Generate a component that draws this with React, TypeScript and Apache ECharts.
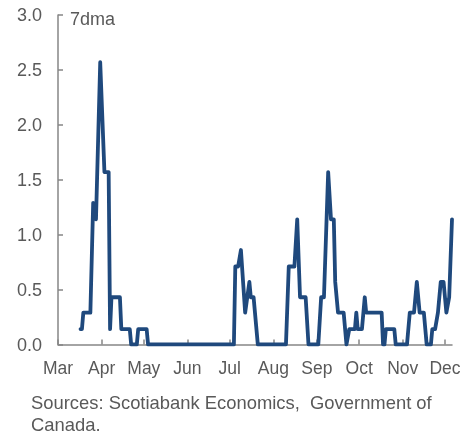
import React, { useEffect, useRef } from "react";
import * as echarts from "echarts";

const monthLabels = ["Mar", "Apr", "May", "Jun", "Jul", "Aug", "Sep", "Oct", "Nov", "Dec"];
const monthStarts = [
  "2020-03-01", "2020-04-01", "2020-05-01", "2020-06-01", "2020-07-01",
  "2020-08-01", "2020-09-01", "2020-10-01", "2020-11-01", "2020-12-01",
];
const axisStart = "2020-03-01";
const axisEnd = "2020-12-06";

const dates = [
  "2020-03-17", "2020-03-18", "2020-03-19", "2020-03-24", "2020-03-26", "2020-03-28", "2020-03-31",
  "2020-04-03", "2020-04-06", "2020-04-07", "2020-04-08", "2020-04-14", "2020-04-15", "2020-04-21",
  "2020-04-22", "2020-04-26", "2020-04-27", "2020-05-03", "2020-05-04",
  "2020-07-04", "2020-07-05", "2020-07-07", "2020-07-09", "2020-07-12", "2020-07-15", "2020-07-16",
  "2020-07-18", "2020-07-21",
  "2020-08-10", "2020-08-12", "2020-08-16", "2020-08-18", "2020-08-20", "2020-08-24", "2020-08-26",
  "2020-09-02", "2020-09-04", "2020-09-06", "2020-09-09", "2020-09-11", "2020-09-13", "2020-09-14",
  "2020-09-16", "2020-09-20", "2020-09-22", "2020-09-24", "2020-09-28", "2020-09-29", "2020-09-30",
  "2020-10-03", "2020-10-05", "2020-10-06", "2020-10-17", "2020-10-18", "2020-10-19", "2020-10-20",
  "2020-10-26", "2020-10-27",
  "2020-11-04", "2020-11-06", "2020-11-09", "2020-11-11", "2020-11-13", "2020-11-16", "2020-11-18",
  "2020-11-21", "2020-11-22", "2020-11-24", "2020-11-26", "2020-11-28", "2020-11-30",
  "2020-12-02", "2020-12-04", "2020-12-06",
];
const values = [
  0.14, 0.14, 0.29, 0.29, 1.29, 1.14, 2.57,
  1.57, 1.57, 0.14, 0.43, 0.43, 0.14, 0.14,
  0, 0, 0.14, 0.14, 0,
  0, 0.71, 0.71, 0.86, 0.29, 0.57, 0.43,
  0.43, 0,
  0, 0.71, 0.71, 1.14, 0.43, 0.43, 0,
  0, 0.43, 0.43, 1.57, 1.14, 1.14, 0.57,
  0.29, 0.29, 0, 0.14, 0.14, 0.29, 0.14,
  0.14, 0.43, 0.29, 0.29, 0, 0, 0.14,
  0.14, 0,
  0, 0.29, 0.29, 0.57, 0.29, 0.29, 0,
  0, 0.14, 0.14, 0.29, 0.57, 0.57,
  0.29, 0.43, 1.14,
];
const yTicks = [0, 0.5, 1.0, 1.5, 2.0, 2.5, 3.0];

const seriesLabel = "7dma";
const sourceText = "Sources: Scotiabank Economics,  Government of\nCanada.";

const dayOffset = (s: string) => {
  const [y, m, d] = s.split("-").map(Number);
  const [y0, m0, d0] = axisStart.split("-").map(Number);
  return Math.round((Date.UTC(y, m - 1, d) - Date.UTC(y0, m0 - 1, d0)) / 86400000);
};

export default function App() {
  const ref = useRef<HTMLDivElement>(null);
  useEffect(() => {
    if (!ref.current) return;
    const chart = echarts.init(ref.current, undefined, { renderer: "svg" });
    const monthOffsets = monthStarts.map(dayOffset);
    const textColor = "#595959";
    const axisColor = "#868686";
    const font = "Liberation Sans";
    chart.setOption({
      animation: false,
      grid: { left: 58, right: 13, top: 15, bottom: 90.5, containLabel: false },
      xAxis: {
        type: "value",
        min: 0,
        max: dayOffset(axisEnd),
        splitLine: { show: false },
        axisLine: { show: true, onZero: false, lineStyle: { color: axisColor, width: 1.5 } },
        axisTick: { show: true, inside: true, length: 5, customValues: monthOffsets, lineStyle: { color: axisColor, width: 1.5 } },
        axisLabel: {
          customValues: monthOffsets,
          formatter: (v: number) => {
            const i = monthOffsets.indexOf(Math.round(v));
            return i >= 0 ? monthLabels[i] : "";
          },
          color: textColor,
          fontSize: 17.5,
          fontFamily: font,
          margin: 14,
          showMinLabel: true,
          showMaxLabel: true,
        },
      },
      yAxis: {
        type: "value",
        min: yTicks[0],
        max: yTicks[yTicks.length - 1],
        interval: 0.5,
        splitLine: { show: false },
        axisLine: { show: true, lineStyle: { color: axisColor, width: 1.5 } },
        axisTick: { show: true, inside: true, length: 5, lineStyle: { color: axisColor, width: 1.5 } },
        axisLabel: {
          formatter: (v: number) => v.toFixed(1),
          color: textColor,
          fontSize: 18,
          fontFamily: font,
          margin: 16,
        },
      },
      series: [
        {
          type: "line",
          name: seriesLabel,
          data: dates.map((d, i) => [dayOffset(d), values[i]]),
          showSymbol: false,
          lineStyle: { color: "#1F497D", width: 3.8, cap: "round", join: "round" },
          itemStyle: { color: "#1F497D" },
          z: 3,
        },
      ],
      graphic: [
        {
          type: "text",
          left: 70,
          top: 10,
          style: { text: seriesLabel, font: `18px "${font}"`, fill: textColor },
        },
        {
          type: "text",
          left: 31,
          top: 391,
          style: { text: sourceText, font: `18.4px "${font}"`, fill: textColor, lineHeight: 22 },
        },
      ],
    });
    return () => chart.dispose();
  }, []);
  return <div ref={ref} style={{ position: "fixed", left: 0, top: 0, width: 465, height: 435 }} />;
}
